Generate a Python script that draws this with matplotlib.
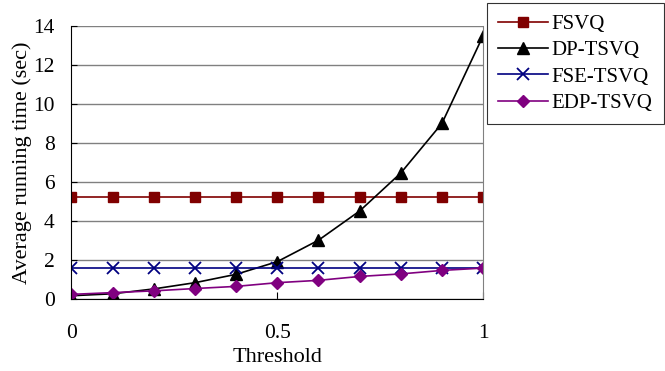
import matplotlib
matplotlib.use('Agg')
import matplotlib.pyplot as plt

plt.rcParams['font.family'] = ['Liberation Serif', 'DejaVu Serif']

threshold = [0, 0.1, 0.2, 0.3, 0.4, 0.5, 0.6, 0.7, 0.8, 0.9, 1.0]
fsvq = [5.2] * 11
dp_tsvq = [0.15, 0.25, 0.5, 0.82, 1.25, 1.9, 3.0, 4.5, 6.45, 9.0, 13.5]
fse_tsvq = [1.55] * 11
edp_tsvq = [0.22, 0.31, 0.4, 0.52, 0.63, 0.82, 0.94, 1.14, 1.27, 1.45, 1.57]

fig = plt.figure(figsize=(6.65, 3.71), dpi=100)
ax = fig.add_axes([0.1075, 0.195, 0.619, 0.735])

ax.plot(threshold, fsvq, color='#800000', marker='s', markersize=7, lw=1.2, label='FSVQ')
ax.plot(threshold, dp_tsvq, color='black', marker='^', markersize=8, lw=1.2, label='DP-TSVQ')
ax.plot(threshold, fse_tsvq, color='#000080', marker='x', markersize=9, mew=1.3, lw=1.2, label='FSE-TSVQ')
ax.plot(threshold, edp_tsvq, color='#800080', marker='D', markersize=6.5, lw=1.2, label='EDP-TSVQ')

ax.set_xlim(0, 1)
ax.set_ylim(0, 14)
ax.set_xticks([0, 0.5, 1])
ax.set_xticklabels(['0', '0.5', '1'])
ax.set_yticks(range(0, 15, 2))
ax.yaxis.grid(True, color='#808080', lw=1.0)
ax.set_axisbelow(True)
ax.tick_params(axis='x', direction='in', length=5, pad=18, labelsize=15.5)
ax.tick_params(axis='y', direction='in', length=4, pad=12, labelsize=15.5)
ax.spines['top'].set_visible(False)
ax.spines['right'].set_color('#808080')
ax.spines['left'].set_color('black')
ax.spines['bottom'].set_color('black')

ax.set_xlabel('Threshold', fontsize=16, labelpad=4)
ax.set_ylabel('Average running time (sec)', fontsize=16, labelpad=1)

leg = fig.legend(loc='upper left', bbox_to_anchor=(487 / 665, 1 - 3 / 371),
                 frameon=True, fancybox=False, edgecolor='black', fontsize=15,
                 handlelength=2.4, labelspacing=0.32, borderaxespad=0,
                 handletextpad=0.15, borderpad=0.55)
leg.get_frame().set_linewidth(0.8)

fig.savefig('out.png', dpi=100)
